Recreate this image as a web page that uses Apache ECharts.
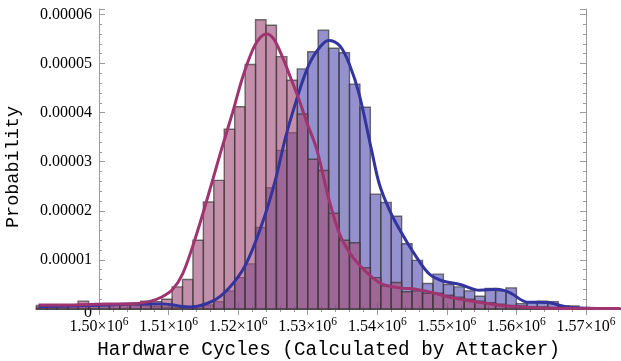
<!DOCTYPE html>
<html>
<head>
<meta charset="utf-8">
<script src="https://cdn.jsdelivr.net/npm/echarts@6/dist/echarts.min.js"></script>
<style>
html, body { margin: 0; background: #fff; }
#chart { width: 621px; height: 361px; }
</style>
</head>
<body>
<div id="chart"></div>
<script>
// histogram bins (hardware cycles)
const binStart = 1491000
const binWidth = 1500

// bar heights, in units of 1e-6
const pinkBars = [
  0.7, 0.8, 0.8, 0.9, 1.6, 0.9, 1.0, 1.0, 1.1, 1.1,
  1.6, 1.5, 2.0, 4.5, 6.0, 14.0, 21.8, 26.2, 36.6, 41.2,
  49.8, 58.9, 57.8, 51.4, 46.6, 39.7, 30.5, 28.2, 19.5, 14.0,
  13.5, 8.4, 6.4, 4.7, 5.4, 3.5, 3.7, 3.2, 3.2, 2.8,
  2.4, 2.0, 1.6, 1.3, 1.0, 0.7, 0.6, 0.4, 0.4, 0.3,
  0.3, 0.2, 0.2, 0.1, 0.1, 0.1
]
const blueBars = [
  0.3, 0.4, 0.5, 0.6, 1.0, 0.7, 0.8, 0.8, 0.9, 0.8,
  0.7, 0.5, 0.4, 0.3, 0.4, 0.6, 0.8, 1.5, 3.7, 6.4,
  9.2, 16.6, 24.7, 32.3, 35.9, 48.9, 52.4, 56.8, 53.1, 52.2,
  45.8, 41.1, 23.4, 21.7, 18.9, 13.3, 9.9, 5.2, 7.1, 5.0,
  4.5, 3.7, 2.6, 4.2, 3.7, 4.3, 1.1, 1.3, 1.6, 1.5,
  0.6, 0.6, 0.3, 0.2, 0.2, 0.1
]

// smooth density curves: [cycles x1e6, probability x1e-6]
const pinkCurve = [
  [1.4913, 0.8], [1.4957, 0.8], [1.5014, 1.0], [1.5043, 1.0], [1.5072, 1.5],
  [1.5091, 2.5], [1.5106, 4.0], [1.5120, 7.1], [1.5134, 12.5], [1.5149, 19.3],
  [1.5163, 26.1], [1.5176, 32.5], [1.5192, 40.0], [1.5206, 47.0], [1.5220, 52.5],
  [1.5230, 55.0], [1.5241, 56.0], [1.5251, 55.0], [1.5264, 51.2], [1.5277, 46.5],
  [1.5288, 42.4], [1.5300, 37.5], [1.5313, 32.5], [1.5331, 22.0], [1.5346, 15.2],
  [1.5360, 11.5], [1.5374, 9.0], [1.5393, 6.4], [1.5408, 5.0], [1.5432, 4.3],
  [1.5457, 4.0], [1.5480, 3.3], [1.5504, 2.4], [1.5537, 1.6], [1.5586, 0.6],
  [1.5634, 0.2], [1.5691, 0.1], [1.5749, 0.1]
]
const blueCurve = [
  [1.4913, 0.5], [1.4957, 0.6], [1.5014, 0.8], [1.5043, 1.0], [1.5091, 1.0],
  [1.5130, 0.4], [1.5163, 1.6], [1.5187, 4.3], [1.5211, 9.1], [1.5234, 17.2],
  [1.5253, 26.0], [1.5268, 34.9], [1.5280, 40.8], [1.5298, 48.5], [1.5313, 52.5],
  [1.5330, 54.7], [1.5346, 53.6], [1.5360, 49.8], [1.5374, 43.7], [1.5392, 32.2],
  [1.5403, 25.4], [1.5418, 20.0], [1.5436, 15.2], [1.5457, 10.4], [1.5475, 7.1],
  [1.5494, 5.7], [1.5519, 5.0], [1.5547, 3.8], [1.5572, 4.0], [1.5591, 3.3],
  [1.5615, 1.4], [1.5644, 1.3], [1.5673, 0.4], [1.5696, 0.15], [1.5749, 0.1]
]

const unit = 1e-6
const yMax = 6.11e-5
const axisGray = '#9a9a9a'

function barData(vals) {
  return vals.map((v, i) => [binStart + i * binWidth, binStart + (i + 1) * binWidth, v * unit])
}
function curveData(pts) {
  return pts.map(p => [p[0] * 1e6, p[1] * unit])
}
function histItem(fill) {
  return function (params, api) {
    const p0 = api.coord([api.value(0), api.value(2)])
    const p1 = api.coord([api.value(1), 0])
    return {
      type: 'rect',
      shape: {x: p0[0], y: p0[1], width: p1[0] - p0[0], height: p1[1] - p0[1]},
      style: {fill: fill, stroke: 'rgba(55,55,55,0.7)', lineWidth: 1.4}
    }
  }
}

const serif = 'Liberation Serif'
const mono = 'Liberation Mono'

const frameX = {
  type: 'value', gridIndex: 0, min: 1500000, max: 1570000, interval: 10000,
  axisLine: {lineStyle: {color: axisGray}},
  axisTick: {inside: true, length: 6, lineStyle: {color: axisGray}},
  minorTick: {show: true, splitNumber: 5, length: 3, lineStyle: {color: axisGray}},
  splitLine: {show: false}
}
const frameY = {
  type: 'value', gridIndex: 0, min: 0, max: yMax, interval: 1e-5,
  axisLine: {show: true, lineStyle: {color: axisGray}},
  axisTick: {show: true, inside: true, length: 6, lineStyle: {color: axisGray}},
  minorTick: {show: true, splitNumber: 5, length: 3, lineStyle: {color: axisGray}},
  splitLine: {show: false}
}

const option = {
  animation: false,
  grid: [
    {left: 99, right: 35, top: 9, bottom: 52, outerBoundsMode: 'none'},
    {left: 36.4, right: 0.2, top: 9, bottom: 52, outerBoundsMode: 'none'}
  ],
  xAxis: [
    Object.assign({}, frameX, {
      position: 'bottom',
      axisLabel: {
        margin: 7, color: '#000',
        formatter: v => '{m|' + (v / 1e6).toFixed(2) + '×10}{s|6}',
        rich: {
          m: {fontFamily: serif, fontSize: 16, color: '#000'},
          s: {fontFamily: serif, fontSize: 11.5, color: '#000', padding: [0, 0, 10, 0]}
        }
      }
    }),
    Object.assign({}, frameX, {position: 'top', axisLabel: {show: false}}),
    {
      type: 'value', gridIndex: 1, min: binStart, max: 1575000, position: 'bottom',
      axisLine: {lineStyle: {color: axisGray}},
      axisTick: {show: false}, axisLabel: {show: false}, splitLine: {show: false},
      name: 'Hardware Cycles (Calculated by Attacker)',
      nameLocation: 'middle', nameGap: 31,
      nameTextStyle: {fontFamily: mono, fontSize: 19.3, color: '#000'}
    }
  ],
  yAxis: [
    Object.assign({}, frameY, {
      position: 'left',
      name: 'Probability', nameLocation: 'middle', nameGap: 76,
      nameTextStyle: {fontFamily: mono, fontSize: 18.5, color: '#000', padding: [0, 16, 0, 0]},
      axisLabel: {
        margin: 7, showMaxLabel: false,
        formatter: v => v === 0 ? '{z|0}' : '{n|' + v.toFixed(5) + '}',
        rich: {
          n: {fontFamily: serif, fontSize: 16, color: '#000'},
          z: {fontFamily: serif, fontSize: 16, color: '#000', padding: [8, 0, 0, 0]}
        }
      }
    }),
    Object.assign({}, frameY, {position: 'right', axisLabel: {show: false}}),
    {type: 'value', gridIndex: 1, min: 0, max: yMax, show: false}
  ],
  series: [
    {
      type: 'custom', xAxisIndex: 2, yAxisIndex: 2,
      renderItem: histItem('rgba(60,55,165,0.55)'),
      encode: {x: [0, 1], y: 2},
      data: barData(blueBars)
    },
    {
      type: 'custom', xAxisIndex: 2, yAxisIndex: 2,
      renderItem: histItem('rgba(162,78,121,0.63)'),
      encode: {x: [0, 1], y: 2},
      data: barData(pinkBars)
    },
    {
      type: 'line', xAxisIndex: 2, yAxisIndex: 2,
      smooth: 0.35, showSymbol: false,
      lineStyle: {color: 'rgb(52,52,158)', width: 3},
      data: curveData(blueCurve)
    },
    {
      type: 'line', xAxisIndex: 2, yAxisIndex: 2,
      smooth: 0.35, showSymbol: false,
      lineStyle: {color: 'rgb(160,52,112)', width: 3},
      data: curveData(pinkCurve)
    }
  ]
}

const chart = echarts.init(document.getElementById('chart'))
chart.setOption(option)
</script>
</body>
</html>
